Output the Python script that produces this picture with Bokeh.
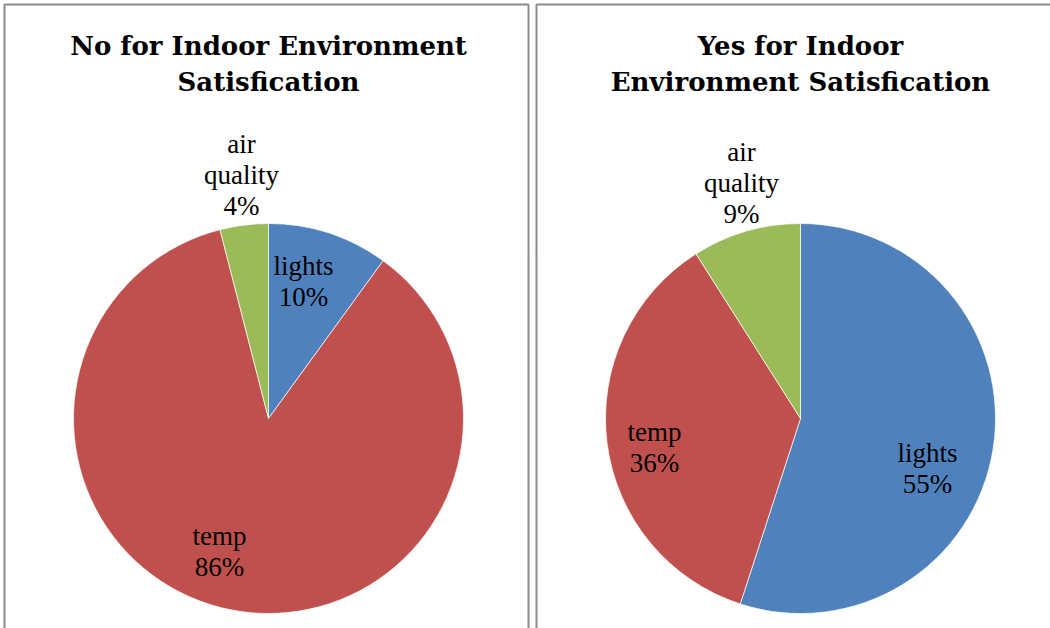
import numpy as np
from bokeh.plotting import figure
from bokeh.models import Range1d, ColumnDataSource
from bokeh.core.properties import value
from bokeh.embed import file_html
from bokeh.resources import INLINE

# ---- data ----
categories = ["lights", "temp", "air quality"]
no_values = [10, 86, 4]
yes_values = [55, 36, 9]
colors = ["#4F81BD", "#C0504D", "#9BBB59"]
no_title = ["No for Indoor Environment", "Satisfication"]
yes_title = ["Yes for Indoor", "Environment Satisfication"]

W, H = 1050, 628
TITLE_FONT = "DejaVu Serif"
LABEL_FONT = "Liberation Serif"

p = figure(width=W, height=H, output_backend="svg", toolbar_location=None,
           x_range=Range1d(0, W), y_range=Range1d(0, H),
           x_axis_location=None, y_axis_location=None, min_border=0)
p.grid.visible = False
p.outline_line_color = None
p.background_fill_color = "white"
p.border_fill_color = "white"

def Y(y):
    return H - y

# panel borders
for (x0, x1) in [(4, 528), (536, 1060)]:
    p.quad(left=[x0], right=[x1], bottom=[Y(640)], top=[Y(4)],
           fill_color=None, line_color="#8c8c8c", line_width=2)

def pie(vals, cx, cy, r, label_pos, title_lines, tcx):
    vals = np.array(vals, dtype=float)
    frac = vals / vals.sum()
    cum = np.concatenate([[0], np.cumsum(frac)])
    start = np.pi / 2 - 2 * np.pi * cum[1:]
    end = np.pi / 2 - 2 * np.pi * cum[:-1]
    src = ColumnDataSource(dict(start=start, end=end, color=colors))
    p.wedge(x=cx, y=Y(cy), radius=r, start_angle="start", end_angle="end",
            fill_color="color", line_color="white", line_width=0.7, source=src)
    for i, c in enumerate(categories):
        lines = c.split(" ") + [f"{int(vals[i])}%"]
        lx, ly = label_pos[i]
        ys = [Y(ly + 31 * k) for k in range(len(lines))]
        p.text(x=[lx] * len(lines), y=ys, text=lines, text_font=value(LABEL_FONT),
               text_font_size="27px", text_align="center", text_baseline="middle",
               text_color="#000000")
    for k, t in enumerate(title_lines):
        p.text(x=[tcx], y=[Y(45 + 36 * k)], text=[t], text_font=value(TITLE_FONT),
               text_font_size="26px", text_font_style="bold", text_align="center",
               text_baseline="middle", text_color="#000000")

pie(no_values, 268, 418, 195,
    [(303, 265), (219, 535), (241, 143)], no_title, 268)
pie(yes_values, 800, 418, 195,
    [(927, 452), (654, 431), (741, 151)], yes_title, 800)

open("out.html", "w").write(file_html(p, INLINE))
